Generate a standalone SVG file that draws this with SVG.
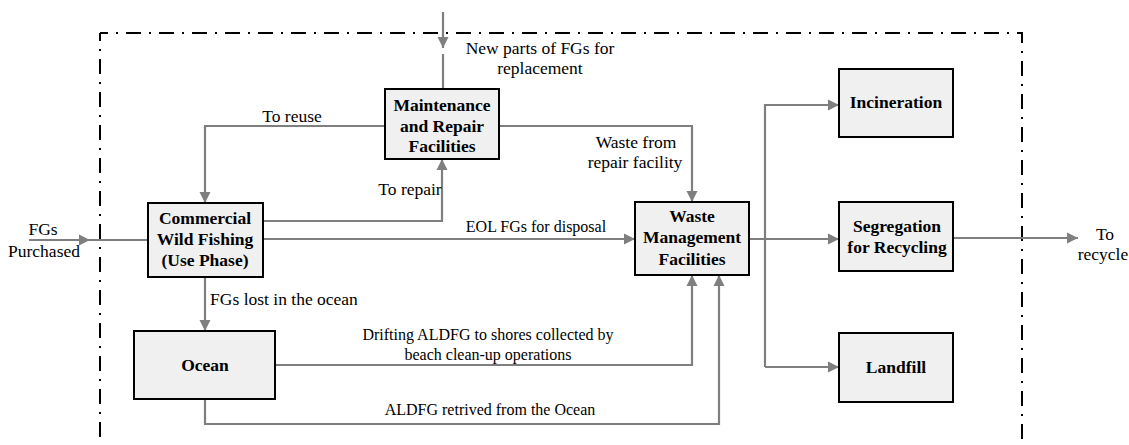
<svg xmlns="http://www.w3.org/2000/svg" width="1129" height="445" viewBox="0 0 1129 445" font-family="'Liberation Serif', 'Times New Roman', 'DejaVu Serif', serif">
<style>
text{font-family:'Liberation Serif','Times New Roman','DejaVu Serif',serif}
.box{fill:#f0f0f0;stroke:#000;stroke-width:2}
.bt{font-weight:bold;font-size:17.5px;text-anchor:middle;fill:#000}
.lt{font-size:17.5px;text-anchor:middle;fill:#000}
.sm{font-size:16px}
.c{fill:none;stroke:#7f7f7f;stroke-width:2.2}
.b{fill:none;stroke:#000;stroke-width:2;stroke-dasharray:15 8 2 8;stroke-dashoffset:7}
</style>
<defs>
<marker id="ah" markerUnits="userSpaceOnUse" markerWidth="12" markerHeight="12" refX="11" refY="6" orient="auto">
<path d="M0,0.5 L11,6 L0,11.5 z" fill="#7f7f7f"/>
</marker>
</defs>
<rect width="1129" height="445" fill="#fff"/>
<g id="boundary">
<path class="b" d="M100,33 V460"/>
<path class="b" d="M100,33 H1022 V460"/>
</g>
<g id="connectors">
<path class="c" d="M443,12 V48" marker-end="url(#ah)"/>
<path class="c" d="M443,54 V89"/>
<path class="c" d="M385,126 H205 V203" marker-end="url(#ah)"/>
<path class="c" d="M499,126 H692 V202" marker-end="url(#ah)"/>
<path class="c" d="M263,221 H442 V159" marker-end="url(#ah)"/>
<path class="c" d="M263,239 H635" marker-end="url(#ah)"/>
<path class="c" d="M29,240 H90" marker-end="url(#ah)"/>
<path class="c" d="M90,240 H148"/>
<path class="c" d="M205,277 V331" marker-end="url(#ah)"/>
<path class="c" d="M275,365 H692 V275" marker-end="url(#ah)"/>
<path class="c" d="M205,399 V424 H719 V275" marker-end="url(#ah)"/>
<path class="c" d="M749,239 H839" marker-end="url(#ah)"/>
<path class="c" d="M765,367 V105 H839" marker-end="url(#ah)"/>
<path class="c" d="M765,367 H839" marker-end="url(#ah)"/>
<path class="c" d="M953,238 H1078" marker-end="url(#ah)"/>
</g>
<g id="labels">
<text class="lt" x="540" y="54">New parts of FGs for</text>
<text class="lt" x="540" y="74">replacement</text>
<text class="lt" x="292" y="122">To reuse</text>
<text class="lt" x="636" y="148">Waste from</text>
<text class="lt" x="635" y="168">repair facility</text>
<text class="lt" x="410" y="195">To repair</text>
<text class="lt sm" x="536" y="232">EOL FGs for disposal</text>
<text class="lt" x="43" y="235">FGs</text>
<text class="lt" x="44" y="257">Purchased</text>
<text class="lt" x="284" y="305">FGs lost in the ocean</text>
<text class="lt sm" x="488" y="340">Drifting ALDFG to shores collected by</text>
<text class="lt sm" x="488" y="360">beach clean-up operations</text>
<text class="lt sm" x="490" y="415">ALDFG retrived from the Ocean</text>
<text class="lt" x="1105" y="240">To</text>
<text class="lt" x="1103" y="260">recycle</text>
</g>
<g id="maintenance">
<rect class="box" x="385" y="89" width="114" height="70"/>
<text class="bt" x="442" y="111">Maintenance</text>
<text class="bt" x="442" y="132">and Repair</text>
<text class="bt" x="442" y="152">Facilities</text>
</g>
<g id="commercial">
<rect class="box" x="148" y="203" width="115" height="74"/>
<text class="bt" x="205" y="224">Commercial</text>
<text class="bt" x="205" y="245">Wild Fishing</text>
<text class="bt" x="205" y="266">(Use Phase)</text>
</g>
<g id="waste">
<rect class="box" x="635" y="202" width="114" height="73"/>
<text class="bt" x="692" y="222">Waste</text>
<text class="bt" x="692" y="243">Management</text>
<text class="bt" x="692" y="265">Facilities</text>
</g>
<g id="ocean">
<rect class="box" x="134" y="331" width="141" height="68"/>
<text class="bt" x="205" y="371">Ocean</text>
</g>
<g id="incineration">
<rect class="box" x="839" y="69" width="114" height="68"/>
<text class="bt" x="896" y="108">Incineration</text>
</g>
<g id="segregation">
<rect class="box" x="839" y="202" width="114" height="69"/>
<text class="bt" x="897" y="232">Segregation</text>
<text class="bt" x="897" y="253">for Recycling</text>
</g>
<g id="landfill">
<rect class="box" x="839" y="333" width="114" height="69"/>
<text class="bt" x="896" y="373">Landfill</text>
</g>
</svg>
